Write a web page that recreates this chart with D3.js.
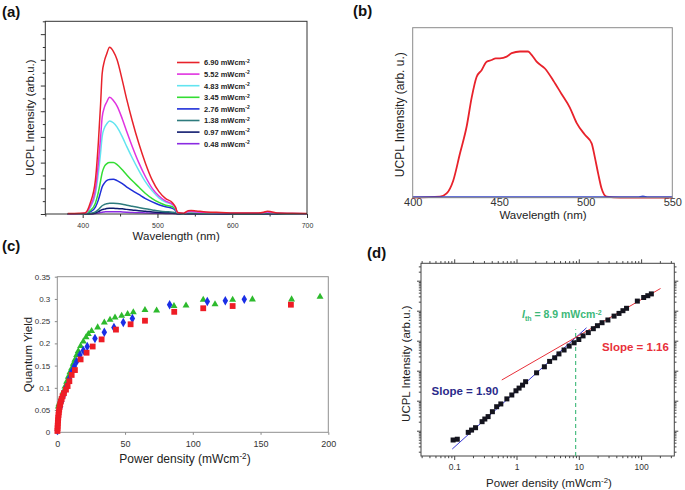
<!DOCTYPE html>
<html><head><meta charset="utf-8">
<script src="https://cdn.jsdelivr.net/npm/d3@7"></script>
<style>
body{margin:0;background:#fff}
svg{display:block}
text{font-family:"Liberation Sans",Arial,Helvetica,sans-serif}
</style></head>
<body><svg id="chart" width="685" height="490"></svg>
<script>
// ---------- Panel (a) data ----------
const wavelengthsA = [380,395,403,410,417,421,424,426,429,432,436,441,446,453,459,466,475,484,493,502,511,520,524,527,535,541,545,552,565,585,610,635,642,647,652,660,680,700];
const legendLabelsA = ["6.90","5.52","4.83","3.45","2.76","1.38","0.97","0.48"];
const intensity690 = [0.02,0.03,0.04,0.42,1.32,2.8,4.3,5.45,5.95,6.22,6.49,6.33,6.0,5.2,4.45,3.66,2.75,1.97,1.32,0.87,0.6,0.44,0.28,0.06,0.03,0.13,0.14,0.12,0.08,0.06,0.04,0.04,0.07,0.11,0.09,0.04,0.03,0.02];
const intensity552 = [0,0.01,0.03,0.3,0.95,2.0,3.0,3.75,4.15,4.35,4.54,4.42,4.2,3.7,3.2,2.65,2.0,1.45,1.0,0.7,0.5,0.38,0.25,0.05,0.02,0.09,0.1,0.08,0.06,0.04,0.03,0.03,0.05,0.08,0.06,0.03,0.02,0.01];
const intensity483 = [0,0.01,0.03,0.25,0.78,1.6,2.4,3.0,3.35,3.5,3.62,3.55,3.38,3.0,2.62,2.2,1.7,1.25,0.9,0.63,0.46,0.36,0.24,0.05,0.02,0.08,0.09,0.07,0.05,0.04,0.03,0.03,0.04,0.07,0.05,0.03,0.02,0.01];
const intensity345 = [0,0,0.02,0.13,0.42,0.85,1.3,1.6,1.85,1.95,2.0,2.0,1.92,1.72,1.52,1.3,1.05,0.8,0.6,0.45,0.34,0.28,0.18,0.04,0.01,0.06,0.06,0.05,0.04,0.03,0.02,0.02,0.03,0.05,0.04,0.02,0.01,0.01];
const intensity276 = [0,0,0.01,0.08,0.27,0.55,0.85,1.05,1.2,1.3,1.34,1.35,1.3,1.18,1.05,0.92,0.76,0.6,0.47,0.36,0.28,0.22,0.14,0.03,0.01,0.04,0.05,0.04,0.03,0.02,0.02,0.02,0.02,0.04,0.03,0.02,0.01,0.01];
const intensity138 = [0,0,0,0.02,0.08,0.17,0.26,0.32,0.37,0.4,0.42,0.42,0.41,0.38,0.34,0.3,0.25,0.2,0.16,0.12,0.09,0.07,0.05,0.01,0,0.02,0.02,0.02,0.01,0.01,0.01,0.01,0.01,0.02,0.01,0.01,0,0];
const intensity097 = [0,0,0,0.01,0.04,0.09,0.14,0.17,0.19,0.21,0.22,0.22,0.21,0.2,0.18,0.16,0.13,0.11,0.08,0.06,0.05,0.04,0.03,0.01,0,0.01,0.01,0.01,0.01,0,0,0,0,0.01,0.01,0,0,0];
const intensity048 = [0,0,0,0,0.02,0.04,0.06,0.07,0.08,0.09,0.09,0.09,0.09,0.08,0.07,0.06,0.05,0.04,0.03,0.03,0.02,0.02,0.01,0,0,0,0,0,0,0,0,0,0,0,0,0,0,0];
const xTicksA = [400,500,600,700];

// ---------- Panel (b) data ----------
const wavelengthsB = [400,415.8,419.6,423.4,427.3,431.2,434.1,436.9,439.8,442.7,445.6,448,450.4,454.3,457.2,462,466.7,468.7,471.6,476.4,481.2,486,490.8,494.7,499.5,503.4,505.2,507.2,509.1,512,520,550];
const intensityB = [0,0.006,0.025,0.10,0.26,0.42,0.59,0.71,0.75,0.80,0.81,0.82,0.82,0.83,0.85,0.86,0.86,0.84,0.80,0.76,0.69,0.61,0.53,0.44,0.37,0.32,0.24,0.14,0.055,0.006,0,0];
const wavelengthsB2 = [400,450,500,530,533,536,550];
const intensityB2 = [0.004,0.004,0.004,0.004,0.008,0.004,0.004];
const xTicksB = [400,450,500,550];

// ---------- Panel (c) data ----------
const yieldGreen = [[0.8,0.058],[1.2,0.063],[2,0.068],[3.2,0.08],[4.4,0.091],[5.7,0.103],[6.9,0.114],[8.1,0.125],[9.3,0.135],[10.6,0.144],[11.8,0.154],[13,0.163],[14.3,0.174],[15.5,0.183],[17.2,0.194],[19.2,0.204],[21.2,0.214],[22.9,0.221],[25.3,0.228],[29.8,0.236],[34.7,0.247],[38.9,0.253],[42.6,0.258],[47.5,0.262],[51.9,0.266],[56.1,0.27],[64.7,0.275],[73.3,0.274],[86.1,0.284],[95,0.285],[107.7,0.298],[116.4,0.288],[129.4,0.298],[144,0.299],[172.9,0.299],[193.9,0.305]];
const yieldBlue = [[0,0.004],[2.4,0.058],[3.2,0.069],[4.2,0.08],[5.5,0.092],[6.9,0.103],[8.9,0.121],[10.6,0.136],[12.5,0.148],[14.3,0.159],[16.7,0.174],[19.2,0.184],[22.1,0.193],[27.8,0.211],[34.7,0.225],[41.8,0.236],[48.7,0.247],[55.4,0.256],[82.9,0.287],[110.7,0.294],[124,0.296],[138,0.299]];
const yieldRed = [[0.1,0.003],[0.2,0.009],[0.3,0.015],[0.4,0.021],[0.55,0.027],[0.7,0.033],[0.9,0.039],[1.1,0.045],[1.4,0.051],[1.7,0.057],[2.1,0.063],[2.6,0.069],[3.2,0.075],[3.9,0.081],[4.9,0.088],[6.4,0.096],[7.6,0.104],[8.9,0.115],[10.6,0.129],[13,0.14],[17.2,0.164],[21.6,0.179],[26.1,0.193],[32.7,0.209],[43.3,0.231],[54.1,0.243],[64.7,0.251],[86.3,0.271],[107.7,0.279],[129.4,0.284],[172.4,0.287]];
const xTicksC = [0,50,100,150,200];
const yTicksC = [0,0.05,0.1,0.15,0.2,0.25,0.3,0.35];

// ---------- Panel (d) data ----------
const powerD = [0.096,0.112,0.168,0.19,0.22,0.28,0.31,0.35,0.41,0.48,0.56,0.70,0.84,0.98,1.1,1.25,1.40,2.1,2.8,3.4,4.1,4.8,5.8,7.0,8.4,10.0,11.7,14.2,17.1,19.9,23.6,29.3,36.8,44.2,51.1,58.4,87,110,128,146];
const intensityD = [0.49,0.52,0.88,1.05,1.26,2.0,2.45,2.95,4.3,6.3,7.8,11.5,15.5,21.4,26.3,33,43,85,135,204,269,363,490,661,851,1096,1445,1862,2512,3162,3981,4898,6607,8128,10000,12023,20893,27542,31623,36308];
const fitLowD = [[0.093,0.245],[13.3,2692]];
const fitHighD = [[0.58,49],[205,54954]];
const thresholdD = [[8.9,0.1435],[8.9,2400]];
const xTicksD = [0.1,1,10,100];

// ---------- drawing ----------
const svg = d3.select("#chart");
const FONT = '"Liberation Sans",Arial,sans-serif';

function label(g, txt, x, y, size, opts={}) {
  return g.append("text").attr("x",x).attr("y",y).attr("font-size",size)
    .attr("text-anchor",opts.anchor||"middle").attr("font-weight",opts.bold?"bold":"normal")
    .attr("fill",opts.fill||"#222").text(txt);
}
function rotLabel(g, txt, x, y, size) {
  return g.append("text").attr("transform",`translate(${x},${y}) rotate(-90)`)
    .attr("font-size",size).attr("text-anchor","middle").attr("fill","#222").text(txt);
}
function powerTitle(g, x, y, size) {
  const t = g.append("text").attr("x",x).attr("y",y).attr("font-size",size).attr("text-anchor","middle").attr("fill","#222");
  t.append("tspan").text("Power density (mWcm");
  t.append("tspan").attr("dy",-4).attr("font-size",size*0.68).text("-2");
  t.append("tspan").attr("dy",4).text(")");
}
function styleAxis(sel, color, fsize) {
  sel.select(".domain").remove();
  sel.selectAll(".tick line").attr("stroke",color);
  sel.selectAll(".tick text").attr("font-size",fsize).attr("fill","#333").attr("font-family",FONT);
}

// panel labels
label(svg,"(a)",2,17,15,{anchor:"start",bold:true,fill:"#111"});
label(svg,"(b)",353,16,15,{anchor:"start",bold:true,fill:"#111"});
label(svg,"(c)",2,251,15,{anchor:"start",bold:true,fill:"#111"});
label(svg,"(d)",367,258,15,{anchor:"start",bold:true,fill:"#111"});

// ===== Panel (a) =====
(function(){
  const g = svg.append("g");
  const x = d3.scaleLinear().domain([350,700]).range([45.3,307]);
  const y = d3.scaleLinear().domain([0,7.5]).range([214,21.3]);
  const [x0,x1] = x.range(), [y0,y1] = y.range();
  const ax = g.append("g").attr("transform",`translate(0,${y0})`)
    .call(d3.axisBottom(x).tickValues(xTicksA).tickSize(4).tickFormat(d3.format("d")));
  styleAxis(ax,"#333",7);
  ax.selectAll(".tick text").attr("y",13.5).attr("dy",null);
  const axm = g.append("g").attr("transform",`translate(0,${y0})`)
    .call(d3.axisBottom(x).tickValues([350,450,550,650]).tickSize(2.5).tickFormat(""));
  styleAxis(axm,"#333",7);
  const ay = g.append("g").attr("transform",`translate(${x0},0)`)
    .call(d3.axisLeft(y).tickValues(d3.range(0,8,1)).tickSize(4.5).tickFormat(""));
  styleAxis(ay,"#333",7);
  const aym = g.append("g").attr("transform",`translate(${x0},0)`)
    .call(d3.axisLeft(y).tickValues(d3.range(0.5,7.6,1)).tickSize(2.5).tickFormat(""));
  styleAxis(aym,"#333",7);

  const series = [intensity048,intensity097,intensity138,intensity276,intensity345,intensity483,intensity552,intensity690];
  const colors = ["#8a2be2","#0f1a6e","#2e7b7d","#1f2fd8","#33dd33","#62e4f0","#e033e0","#e8222b"];
  const line = d3.line().x((d,i)=>x(wavelengthsA[i])).y(d=>y(d)).curve(d3.curveMonotoneX);
  series.forEach((s,k)=>{
    g.append("path").attr("d",line(s)).attr("fill","none").attr("stroke",colors[k]).attr("stroke-width",1.5);
  });
  g.append("rect").attr("x",x0).attr("y",y1).attr("width",x1-x0).attr("height",y0-y1)
    .attr("fill","none").attr("stroke","#333").attr("stroke-width",1);

  // legend
  const legColors = colors.slice().reverse();
  legendLabelsA.forEach((lab,i)=>{
    const yy = 62.5 + i*11.6;
    g.append("line").attr("x1",177).attr("x2",199.5).attr("y1",yy).attr("y2",yy)
      .attr("stroke",legColors[i]).attr("stroke-width",1.6);
    const t = g.append("text").attr("x",204).attr("y",yy+2.8).attr("font-size",7.5).attr("font-weight","bold").attr("fill","#222");
    t.append("tspan").text(lab+" mWcm");
    t.append("tspan").attr("dy",-2.5).attr("font-size",5).text("-2");
  });

  rotLabel(g,"UCPL Intensity (arb.u.)",33.5,(y0+y1)/2,11.5);
  label(g,"Wavelength (nm)",(x0+x1)/2,239.5,11.5);
})();

// ===== Panel (b) =====
(function(){
  const g = svg.append("g");
  const x = d3.scaleLinear().domain([400,550]).range([412.7,672.3]);
  const y = d3.scaleLinear().domain([0,1]).range([197.7,27.7]);
  const [x0,x1] = x.range(), [y0,y1] = y.range();
  const ax = g.append("g").attr("transform",`translate(0,${y0})`)
    .call(d3.axisBottom(x).tickValues(xTicksB).tickSize(0).tickFormat(d3.format("d")));
  styleAxis(ax,"#888",11);
  ax.selectAll(".tick text").attr("y",8.5).attr("dy",null);
  const line = d3.line().x((d,i)=>x(wavelengthsB[i])).y(d=>y(d)).curve(d3.curveMonotoneX);
  g.append("path").attr("d",line(intensityB)).attr("fill","none").attr("stroke","#e8222b").attr("stroke-width",1.8);
  const line2 = d3.line().x((d,i)=>x(wavelengthsB2[i])).y(d=>y(d)).curve(d3.curveMonotoneX);
  g.append("path").attr("d",line2(intensityB2)).attr("fill","none").attr("stroke","#3646c8").attr("stroke-width",1.6);
  g.append("rect").attr("x",x0).attr("y",y1).attr("width",x1-x0).attr("height",y0-y1)
    .attr("fill","none").attr("stroke","#8a8a8a").attr("stroke-width",1);
  rotLabel(g,"UCPL Intensity (arb. u.)",404,(y0+y1)/2+2,12);
  label(g,"Wavelength (nm)",543,219,11.5);
})();

// ===== Panel (c) =====
(function(){
  const g = svg.append("g");
  const x = d3.scaleLinear().domain([0,200]).range([57.3,328.3]);
  const y = d3.scaleLinear().domain([0,0.35]).range([432.3,276.7]);
  const [x0,x1] = x.range(), [y0,y1] = y.range();
  const ax = g.append("g").attr("transform",`translate(0,${y0})`)
    .call(d3.axisBottom(x).tickValues(xTicksC).tickSize(2.5).tickFormat(d3.format("d")));
  styleAxis(ax,"#888",9);
  ax.selectAll(".tick text").attr("y",15).attr("dy",null);
  const ay = g.append("g").attr("transform",`translate(${x0},0)`)
    .call(d3.axisLeft(y).tickValues(yTicksC).tickSize(2.5).tickFormat(d=>String(d)));
  styleAxis(ay,"#888",8);
  ay.selectAll(".tick text").attr("x",-7);
  g.append("rect").attr("x",x0).attr("y",y1).attr("width",x1-x0).attr("height",y0-y1)
    .attr("fill","none").attr("stroke","#8f8f8f").attr("stroke-width",1);

  const tri = d3.symbol().type(d3.symbolTriangle).size(21)();
  const dia = d3.symbol().type(d3.symbolDiamond).size(26)();
  g.selectAll(".g").data(yieldGreen).join("path").attr("d",tri)
    .attr("transform",d=>`translate(${x(d[0])},${y(d[1])})`).attr("fill","#2dba2d");
  g.selectAll(".b").data(yieldBlue).join("path").attr("d",dia)
    .attr("transform",d=>`translate(${x(d[0])},${y(d[1])})`).attr("fill","#1a2ee6");
  g.selectAll(".r").data(yieldRed).join("rect")
    .attr("x",d=>x(d[0])-2.9).attr("y",d=>y(d[1])-2.9).attr("width",5.8).attr("height",5.8).attr("fill","#ee1c25");

  rotLabel(g,"Quantum Yield",31.5,(y0+y1)/2,11.5);
  powerTitle(g,185,463,12);
})();

// ===== Panel (d) =====
(function(){
  const g = svg.append("g");
  const x = d3.scaleLog().domain([0.0293,341]).range([421,674.3]);
  const y = d3.scaleLog().domain([0.1435,380000]).range([456,263.3]);
  const [x0,x1] = x.range(), [y0,y1] = y.range();
  function minors(lo,hi){const o=[];for(let e=-3;e<=6;e++)for(let n=2;n<10;n++){const v=n*Math.pow(10,e);if(v>=lo&&v<=hi)o.push(v);}return o;}
  const xMin = minors(0.03,340), yMaj=[1,10,100,1000,10000,100000], yMin=minors(0.15,370000);
  const tc = "#444";
  [[d3.axisBottom,y0],[d3.axisTop,y1]].forEach(([f,pos],k)=>{
    const a = g.append("g").attr("transform",`translate(0,${pos})`)
      .call(f(x).tickValues(xTicksD).tickSize(4).tickFormat(k===0?(d=>String(d)):""));
    styleAxis(a,tc,8.5);
    if(k===0) a.selectAll(".tick text").attr("y",13.5).attr("dy",null);
    const m = g.append("g").attr("transform",`translate(0,${pos})`)
      .call(f(x).tickValues(xMin).tickSize(2.2).tickFormat(""));
    styleAxis(m,tc,8);
  });
  [[d3.axisLeft,x0],[d3.axisRight,x1]].forEach(([f,pos])=>{
    const a = g.append("g").attr("transform",`translate(${pos},0)`)
      .call(f(y).tickValues(yMaj).tickSize(4).tickFormat(""));
    styleAxis(a,tc,8);
    const m = g.append("g").attr("transform",`translate(${pos},0)`)
      .call(f(y).tickValues(yMin).tickSize(2.2).tickFormat(""));
    styleAxis(m,tc,8);
  });
  g.append("rect").attr("x",x0).attr("y",y1).attr("width",x1-x0).attr("height",y0-y1)
    .attr("fill","none").attr("stroke","#444").attr("stroke-width",1);

  const ln = d3.line().x(d=>x(d[0])).y(d=>y(d[1]));
  g.append("path").attr("d",ln(thresholdD)).attr("stroke","#3cb878").attr("stroke-width",1.1)
    .attr("stroke-dasharray","4,3").attr("fill","none");
  g.append("path").attr("d",ln(fitLowD)).attr("stroke","#3a3ad6").attr("stroke-width",1).attr("fill","none");
  g.append("path").attr("d",ln(fitHighD)).attr("stroke","#e8303a").attr("stroke-width",1).attr("fill","none");
  g.selectAll(".sq").data(powerD).join("rect")
    .attr("x",(d)=>x(d)-2.5).attr("y",(d,i)=>y(intensityD[i])-2.5)
    .attr("width",5).attr("height",5).attr("fill","#14141e");

  label(g,"Slope = 1.90",465,395,11.5,{bold:true,fill:"#2a2a8a"});
  label(g,"Slope = 1.16",635.5,350.5,11.5,{bold:true,fill:"#e8303a"});
  const t = g.append("text").attr("x",522).attr("y",318).attr("font-size",10.5).attr("font-weight","bold").attr("fill","#3cb878");
  t.append("tspan").attr("font-style","italic").text("I");
  t.append("tspan").attr("dy",3).attr("font-size",7).text("th");
  t.append("tspan").attr("dy",-3).text(" = 8.9 mWcm");
  t.append("tspan").attr("dy",-3.5).attr("font-size",7).text("-2");

  rotLabel(g,"UCPL Intensity (arb.u.)",409.5,(y0+y1)/2+4,11.5);
  powerTitle(g,549,486.5,11.5);
})();
</script></body></html>
